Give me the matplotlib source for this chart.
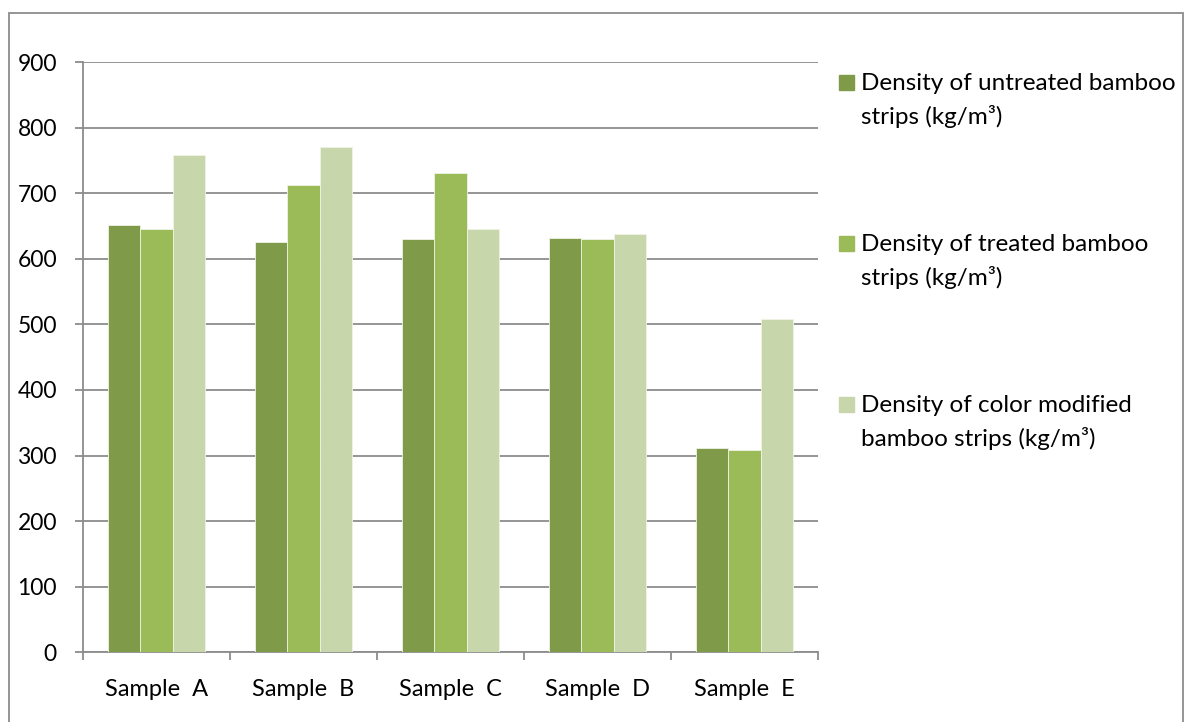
import matplotlib.pyplot as plt
import numpy as np
from matplotlib.patches import Rectangle

plt.rcParams['font.family'] = ['Lato', 'DejaVu Sans']

samples = ['Sample  A', 'Sample  B', 'Sample  C', 'Sample  D', 'Sample  E']
untreated = [651, 626, 630, 632, 312]
treated = [646, 712, 731, 630, 308]
color_modified = [758, 770, 646, 638, 508]

series_names = ['Density of untreated bamboo\nstrips (kg/m³)',
                'Density of treated bamboo\nstrips (kg/m³)',
                'Density of color modified\nbamboo strips (kg/m³)']
series_colors = ['#7f9a48', '#9bbb59', '#c7d6ab']

fig = plt.figure(figsize=(11.84, 7.22), dpi=100)
ax = fig.add_axes([0.0701, 0.0965, 0.6208, 0.8176])

x = np.arange(len(samples))
w = 0.222
for i, vals in enumerate([untreated, treated, color_modified]):
    ax.bar(x + (i - 1) * w, vals, width=w, color=series_colors[i],
           edgecolor='#eef3e4', linewidth=0.6, zorder=3)

grid_col = '#8c8c8c'
ax.set_ylim(0, 900)
ax.set_xlim(-0.5, len(samples) - 0.5)
ax.set_yticks(range(0, 901, 100))
ax.yaxis.grid(True, color=grid_col, linewidth=1.3, zorder=0)

# category labels in the middle, tick marks at the boundaries
ax.set_xticks(x)
ax.set_xticklabels(samples, fontsize=17)
ax.tick_params(axis='x', length=0, pad=19)
ax.set_xticks(np.arange(-0.5, len(samples)), minor=True)
ax.tick_params(axis='x', which='minor', length=5.8, width=1.3, color=grid_col)
ax.tick_params(axis='y', length=5.8, width=1.3, color=grid_col, labelsize=16.5, pad=13)

for s in ['top', 'right']:
    ax.spines[s].set_visible(False)
for s in ['left', 'bottom']:
    ax.spines[s].set_color(grid_col)
    ax.spines[s].set_linewidth(1.3)

# legend on the right, square beside the first line of each entry
leg_y = [0.885, 0.662, 0.439]
for name, col, yy in zip(series_names, series_colors, leg_y):
    fig.patches.append(Rectangle((0.7086, yy - 0.010), 0.0127, 0.0208,
                                 transform=fig.transFigure, color=col))
    fig.text(0.7272, yy + 0.0145, name, fontsize=17.5, va='top',
             ha='left', linespacing=1.6, transform=fig.transFigure)

fig.patches.append(Rectangle((0.0079, -0.01), 0.9912, 0.9924, fill=False,
                             edgecolor='#8c8c8c', linewidth=1.3,
                             transform=fig.transFigure))

fig.savefig('out.png', dpi=100)
